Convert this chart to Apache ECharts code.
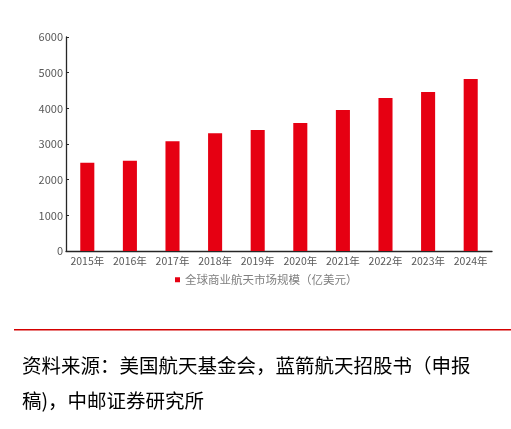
<!DOCTYPE html>
<html>
<head>
<meta charset="utf-8">
<script src="https://cdn.jsdelivr.net/npm/echarts@6/dist/echarts.min.js"></script>
<style>
  html, body { margin: 0; padding: 0; background: #fff; }
  #chart { width: 511px; height: 429px; }
</style>
</head>
<body>
<div id="chart"></div>
<script>
var myChart = echarts.init(document.getElementById('chart'));

// data
const years = ['2015年', '2016年', '2017年', '2018年', '2019年', '2020年', '2021年', '2022年', '2023年', '2024年'];
const marketSize = [2475, 2530, 3080, 3300, 3390, 3590, 3950, 4290, 4460, 4820];
const seriesName = '全球商业航天市场规模（亿美元）';
const sourceLine1 = '资料来源：美国航天基金会，蓝箭航天招股书（申报';
const sourceLine2 = '稿)，中邮证券研究所';

const fontCJK = '"Noto Sans CJK SC", "DejaVu Sans", sans-serif';

option = {
    animation: false,
    textStyle: { fontFamily: fontCJK },
    grid: {
        left: 66,
        right: 19,
        top: 37,
        bottom: 178
    },
    legend: {
        data: [seriesName],
        top: 269,
        left: 170,
        itemWidth: 5,
        itemHeight: 5,
        itemGap: 4,
        icon: 'rect',
        textStyle: { color: '#7f7f7f', fontSize: 11.5, fontFamily: fontCJK }
    },
    xAxis: {
        type: 'category',
        data: years,
        axisLine: { lineStyle: { color: '#262626', width: 1.3 } },
        axisTick: { inside: true, length: 3, lineStyle: { color: '#262626' } },
        axisLabel: { color: '#595959', fontSize: 10.5, margin: 5, interval: 0 }
    },
    yAxis: {
        type: 'value',
        min: 0,
        max: 6000,
        interval: 1000,
        splitLine: { show: false },
        axisLine: { show: true, lineStyle: { color: '#262626', width: 1.3 } },
        axisTick: { show: true, inside: true, length: 3, lineStyle: { color: '#262626' } },
        axisLabel: { color: '#595959', fontSize: 11, margin: 3, formatter: function (v) { return String(v); } }
    },
    series: [
        {
            name: seriesName,
            type: 'bar',
            data: marketSize,
            barWidth: '33%',
            itemStyle: { color: '#e60012' }
        }
    ],
    graphic: [
        {
            type: 'rect',
            shape: { x: 14, y: 329, width: 497, height: 1.5 },
            style: { fill: '#d40000' }
        },
        {
            type: 'text',
            left: 22,
            top: 356,
            style: { text: sourceLine1, fill: '#000', font: '19.5px ' + fontCJK }
        },
        {
            type: 'text',
            left: 22,
            top: 391,
            style: { text: sourceLine2, fill: '#000', font: '19.5px ' + fontCJK }
        }
    ]
};

myChart.setOption(option, true);
</script>
</body>
</html>
